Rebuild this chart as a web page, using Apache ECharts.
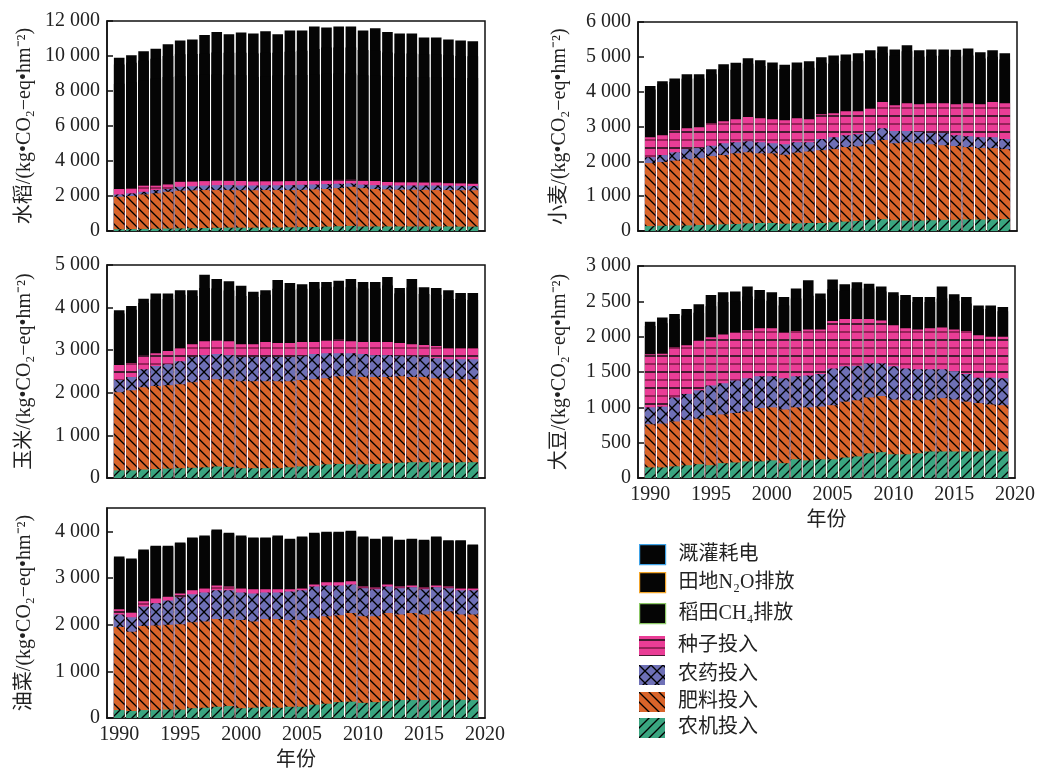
<!DOCTYPE html>
<html><head><meta charset="utf-8">
<script src="https://cdn.jsdelivr.net/npm/echarts@6/dist/echarts.min.js"></script>
<style>html,body{margin:0;padding:0;background:#fff}#c{width:1038px;height:772px}</style>
</head><body><div id="c"></div>
<script>
// ---- data (cumulative level of the top of each layer) ----
const years = [1990,1991,1992,1993,1994,1995,1996,1997,1998,1999,2000,2001,2002,2003,2004,2005,2006,2007,2008,2009,2010,2011,2012,2013,2014,2015,2016,2017,2018,2019];
const xTickLabels = [1990,1995,2000,2005,2010,2015,2020];
const layerNames = ['溉灌耗电','田地N₂O排放','稻田CH₄排放','种子投入','农药投入','肥料投入','农机投入'];
const cropNames = ['水稻','小麦','玉米','大豆','油菜'];

// 水稻
const riceElec = [9900,10040,10270,10420,10670,10890,10950,11200,11370,11240,11350,11290,11410,11250,11460,11460,11690,11630,11690,11690,11460,11580,11370,11290,11290,11060,11060,10950,10890,10840];
const riceN2O  = [9520,9620,9750,9850,10000,10100,10120,10130,10200,10190,10180,10150,10180,10190,10250,10300,10400,10480,10480,10480,10350,10300,10200,10150,10150,10100,10100,10050,10000,9980];
const riceCH4  = [8420,8500,8610,8710,8800,8850,8900,8950,8950,8950,8900,8800,8850,8880,8900,8920,8950,8980,9000,9000,8900,8880,8850,8800,8800,8780,8780,8760,8740,8740];
const riceSeed = [2400,2430,2590,2590,2660,2810,2820,2850,2910,2880,2860,2830,2840,2840,2850,2860,2880,2900,2930,2950,2880,2860,2800,2780,2780,2770,2770,2730,2720,2700];
const ricePest = [2090,2150,2240,2340,2400,2530,2560,2600,2620,2620,2600,2600,2610,2610,2620,2640,2660,2680,2700,2720,2650,2620,2600,2600,2600,2600,2600,2590,2580,2570];
const riceFert = [1960,2000,2090,2150,2240,2300,2320,2340,2340,2340,2330,2330,2340,2340,2340,2350,2380,2400,2450,2530,2450,2400,2380,2360,2360,2350,2340,2340,2330,2330];
const riceMach = [100,110,120,130,140,150,160,170,180,190,190,190,200,200,210,220,230,250,270,290,260,260,260,260,260,260,260,260,250,250];

// 小麦
const wheatElec = [4160,4300,4380,4500,4500,4640,4790,4830,4960,4900,4840,4770,4840,4870,4990,5040,5070,5100,5190,5300,5210,5330,5190,5210,5210,5200,5240,5130,5190,5100];
const wheatN2O  = [4060,4210,4280,4370,4380,4500,4640,4630,4800,4740,4630,4640,4630,4690,4830,4800,4880,4870,4950,5120,5030,5160,5000,5030,5030,5000,5040,4950,5000,4920];
const wheatSeed = [2690,2750,2890,2950,2980,3090,3150,3210,3270,3240,3210,3180,3240,3210,3350,3380,3440,3440,3520,3700,3610,3670,3640,3670,3670,3640,3670,3640,3700,3670];
const wheatPest = [2120,2180,2260,2350,2380,2450,2520,2550,2580,2550,2520,2490,2550,2550,2640,2690,2750,2780,2840,2950,2870,2870,2840,2810,2810,2750,2720,2690,2690,2640];
const wheatFert = [1950,1980,2020,2060,2090,2150,2180,2230,2260,2230,2230,2190,2250,2280,2320,2350,2410,2430,2490,2610,2520,2550,2520,2490,2460,2440,2410,2380,2380,2350];
const wheatMach = [140,150,160,160,170,180,190,200,220,230,230,210,220,230,230,250,270,290,320,340,310,300,300,310,320,320,330,330,330,340];

// 玉米
const cornElec = [3940,4040,4210,4330,4330,4410,4410,4770,4670,4620,4510,4370,4410,4650,4580,4550,4600,4600,4630,4670,4600,4600,4720,4460,4670,4480,4460,4410,4340,4340];
const cornN2O  = [3860,3950,4110,4190,4200,4300,4270,4460,4450,4400,4270,4250,4300,4440,4420,4440,4440,4480,4490,4480,4450,4450,4520,4330,4470,4320,4300,4200,4200,4180];
const cornSeed = [2650,2700,2880,2930,2980,3050,3140,3210,3240,3210,3140,3140,3190,3170,3170,3190,3190,3240,3260,3210,3190,3190,3190,3170,3140,3120,3100,3050,3050,3050];
const cornPest = [2300,2370,2550,2630,2670,2740,2840,2880,2910,2880,2840,2840,2840,2840,2840,2860,2910,2930,2930,2930,2910,2880,2880,2860,2860,2840,2810,2790,2790,2790];
const cornFert = [2010,2060,2130,2160,2180,2200,2250,2300,2320,2320,2270,2270,2270,2270,2270,2300,2320,2340,2390,2390,2370,2370,2370,2390,2370,2370,2340,2340,2320,2320];
const cornMach = [180,180,200,210,220,230,240,250,270,260,230,230,230,230,250,270,290,320,330,320,320,330,345,360,370,370,370,360,370,370];

// 大豆
const soyElec = [2210,2270,2320,2390,2460,2590,2630,2640,2710,2660,2630,2560,2680,2800,2610,2810,2740,2770,2750,2710,2630,2590,2560,2560,2710,2600,2560,2440,2440,2420];
const soyN2O  = [2150,2190,2250,2300,2340,2430,2490,2500,2570,2530,2510,2440,2540,2580,2530,2670,2650,2680,2680,2640,2580,2520,2490,2490,2540,2510,2470,2390,2390,2360];
const soySeed = [1750,1760,1850,1880,1950,1990,2030,2060,2090,2120,2120,2060,2080,2100,2100,2220,2250,2250,2250,2230,2160,2120,2100,2120,2130,2100,2080,2020,2000,2000];
const soyPest = [1000,1010,1140,1190,1240,1310,1340,1380,1410,1440,1440,1410,1440,1450,1470,1550,1580,1590,1620,1620,1580,1550,1540,1540,1540,1510,1470,1420,1420,1410];
const soyFert = [760,770,800,820,840,890,900,920,940,990,1000,970,1000,1000,1010,1030,1080,1100,1140,1160,1110,1100,1100,1110,1130,1110,1080,1060,1040,1030];
const soyMach = [150,150,165,180,195,180,210,220,235,235,250,210,265,250,265,265,290,305,350,365,335,335,350,375,375,375,375,375,390,375];

// 油菜
const rapeElec = [3460,3420,3610,3690,3690,3760,3870,3910,4040,3970,3910,3870,3870,3910,3840,3890,3970,3990,3990,4010,3890,3840,3890,3820,3840,3820,3890,3810,3810,3720];
const rapeN2O  = [3420,3390,3570,3670,3660,3740,3850,3880,4010,3950,3880,3850,3850,3880,3820,3870,3940,3960,3960,3990,3870,3820,3870,3800,3820,3800,3870,3790,3790,3700];
const rapeSeed = [2330,2270,2500,2560,2610,2670,2740,2780,2840,2820,2780,2760,2760,2760,2760,2780,2860,2910,2910,2930,2820,2800,2860,2820,2840,2800,2840,2820,2780,2780];
const rapePest = [2220,2160,2390,2460,2520,2590,2650,2690,2740,2740,2690,2670,2690,2690,2710,2740,2820,2840,2840,2860,2780,2760,2820,2780,2800,2760,2800,2780,2740,2740];
const rapeFert = [1950,1850,1970,1980,2000,2010,2050,2070,2120,2120,2100,2070,2120,2120,2100,2100,2140,2180,2200,2250,2180,2180,2250,2220,2250,2220,2290,2290,2220,2220];
const rapeMach = [170,150,170,170,180,180,210,220,240,255,210,220,240,220,240,240,285,305,340,350,325,340,360,385,385,385,385,385,390,385];

// y-axis ranges
const yMax = [12000, 6000, 5000, 3000, 4500];
const yInterval = [2000, 1000, 1000, 500, 1000];

// ---- styles ----
const FONT = '"Liberation Serif", "Noto Sans CJK SC", serif';
function tile(bg, kind) {
  const s = kind === 'x' ? 12 : (kind === '-' ? 16 : 10);
  const c = document.createElement('canvas');
  c.width = s; c.height = s;
  const g = c.getContext('2d');
  g.fillStyle = bg; g.fillRect(0, 0, s, s);
  g.lineWidth = 1.3; g.strokeStyle = '#000';
  const ln = (a, b, cc, d) => { g.beginPath(); g.moveTo(a, b); g.lineTo(cc, d); g.stroke(); };
  if (kind === '/' || kind === 'x') { ln(0, s, s, 0); ln(-2, 2, 2, -2); ln(s - 2, s + 2, s + 2, s - 2); }
  if (kind === '\\' || kind === 'x') { ln(0, 0, s, s); ln(-2, s - 2, 2, s + 2); ln(s - 2, -2, s + 2, 2); }
  if (kind === '-') {
    g.lineWidth = 1.5;
    g.strokeStyle = '#111'; ln(0, 4, s, 4);
    g.strokeStyle = '#7a1a45'; ln(0, 12, s, 12);
  }
  return { image: c, repeat: 'repeat' };
}
const layerStyles = [
  { color: '#050505' },
  { color: '#050505' },
  { color: '#050505' },
  { color: tile('#ea3d96', '-') },
  { color: tile('#6e70b6', 'x') },
  { color: tile('#d9642a', '\\') },
  { color: tile('#3aa580', '/') }
];
const legendEdge = ['#3fa3e8', '#f2a52a', '#8cc866', null, null, null, null];

const cropLayers = [
  [riceElec, riceN2O, riceCH4, riceSeed, ricePest, riceFert, riceMach],
  [wheatElec, wheatN2O, null, wheatSeed, wheatPest, wheatFert, wheatMach],
  [cornElec, cornN2O, null, cornSeed, cornPest, cornFert, cornMach],
  [soyElec, soyN2O, null, soySeed, soyPest, soyFert, soyMach],
  [rapeElec, rapeN2O, null, rapeSeed, rapePest, rapeFert, rapeMach]
];

const grids = [
  { left: 107, top: 21, width: 378, height: 210 },
  { left: 638, top: 22, width: 379, height: 209 },
  { left: 107, top: 265, width: 378, height: 213 },
  { left: 638, top: 266, width: 378, height: 212 },
  { left: 107, top: 508, width: 378, height: 211 }
].map(g => Object.assign(g, { show: true, borderColor: '#111', borderWidth: 1.5, backgroundColor: 'transparent' }));

const fmt = v => v >= 1000 ? Math.floor(v / 1000) + ' ' + String(v % 1000).padStart(3, '0') : String(v);

const xAxes = grids.map((g, i) => {
  const showLab = (i === 3 || i === 4);
  return {
    type: 'value', gridIndex: i, min: 1989, max: 2020,
    axisLine: { show: true, lineStyle: { color: '#111', width: 1.5 } },
    axisTick: { show: true, inside: true, length: 6, customValues: [1990, 1995, 2000, 2005, 2010, 2015], lineStyle: { color: '#111', width: 1.5 } },
    axisLabel: { show: showLab, customValues: xTickLabels, formatter: v => String(v), fontSize: 20, fontFamily: FONT, color: '#222', margin: 7 },
    splitLine: { show: false },
    name: showLab ? '年份' : '', nameLocation: 'middle', nameGap: 33,
    nameTextStyle: { fontSize: 20, fontFamily: FONT, color: '#222' }
  };
});
const yAxes = grids.map((g, i) => ({
  type: 'value', gridIndex: i, min: 0, max: yMax[i], interval: yInterval[i],
  axisLine: { show: true, lineStyle: { color: '#111', width: 1.5 } },
  axisTick: { show: true, inside: true, length: 6, lineStyle: { color: '#111', width: 1.5 } },
  axisLabel: { formatter: fmt, fontSize: 20, fontFamily: FONT, color: '#222', margin: 7, showMaxLabel: i !== 4 },
  splitLine: { show: false },
  name: cropNames[i] + '/(kg•CO₂−eq•hm⁻²)', nameLocation: 'middle', nameGap: (i % 2 === 0) ? 72 : 68,
  nameTextStyle: { fontSize: 20, fontFamily: FONT, color: '#222' }
}));

const series = [];
cropLayers.forEach((layers, gi) => {
  layers.forEach((arr, li) => {
    if (!arr) return;
    series.push({
      type: 'bar', name: layerNames[li], xAxisIndex: gi, yAxisIndex: gi,
      barWidth: 10.6, barGap: '-100%',
      itemStyle: layerStyles[li],
      emphasis: { disabled: true },
      data: years.map((y, k) => [y, arr[k]])
    });
  });
});

const legendTops = [539, 567, 598, 631, 660, 687, 713];
const legends = layerNames.map((n, i) => {
  const lg = {
    data: [n], left: 634, top: legendTops[i], orient: 'vertical', icon: 'rect',
    itemWidth: 26, itemHeight: 20, selectedMode: false,
    textStyle: { fontSize: 20, fontFamily: FONT, color: '#222', padding: [0, 0, 0, 8] }
  };
  if (legendEdge[i]) lg.itemStyle = { borderColor: legendEdge[i], borderWidth: 1.2 };
  return lg;
});

const chart = echarts.init(document.getElementById('c'), null, { renderer: 'canvas' });
chart.setOption({
  animation: false,
  backgroundColor: '#fff',
  grid: grids, xAxis: xAxes, yAxis: yAxes, legend: legends, series: series
});
</script>
</body></html>
